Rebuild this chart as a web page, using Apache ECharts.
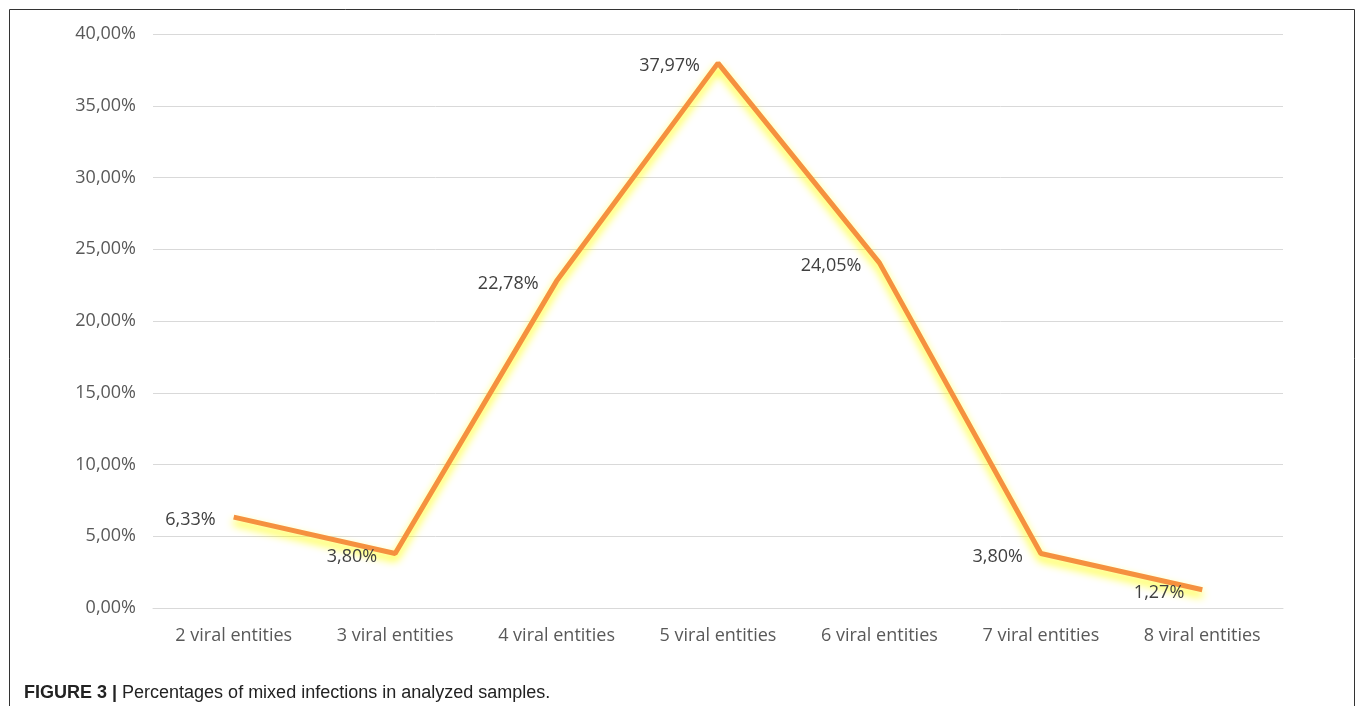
<!DOCTYPE html>
<html>
<head>
<meta charset="utf-8">
<script src="https://cdn.jsdelivr.net/npm/echarts@6/dist/echarts.min.js"></script>
<style>
  html, body { margin: 0; padding: 0; background: #fff; }
  #main { width: 1360px; height: 706px; }
</style>
</head>
<body>
<div id="main"></div>
<script>
var categories = ['2 viral entities', '3 viral entities', '4 viral entities', '5 viral entities', '6 viral entities', '7 viral entities', '8 viral entities'];
var percentages = [6.33, 3.80, 22.78, 37.97, 24.05, 3.80, 1.27];
var yTicks = { min: 0, max: 40, interval: 5 };

function fmtPct(v) {
  return v.toFixed(2).replace('.', ',') + '%';
}

var myChart = echarts.init(document.getElementById('main'));

var option = {
  backgroundColor: '#fff',
  animation: false,
  title: {
    left: 19,
    top: 679,
    text: '{b|FIGURE 3 |} {n|Percentages of mixed infections in analyzed samples.}',
    textStyle: {
      fontWeight: 'normal',
      rich: {
        b: { fontFamily: 'Liberation Sans', fontWeight: 'bold', fontSize: 18, color: '#222' },
        n: { fontFamily: 'Liberation Sans', fontWeight: 'normal', fontSize: 18, color: '#222' }
      }
    }
  },
  graphic: [
    {
      type: 'rect',
      shape: { x: 9.5, y: 9.5, width: 1345, height: 720 },
      style: { fill: 'none', stroke: '#333', lineWidth: 1 },
      silent: true
    }
  ],
  grid: { left: 153, right: 77, top: 34, bottom: 98 },
  xAxis: {
    type: 'category',
    data: categories,
    boundaryGap: true,
    axisLine: { show: true, lineStyle: { color: '#d9d9d9', width: 1 } },
    axisTick: { show: false },
    axisLabel: { color: '#595959', fontSize: 18, fontFamily: 'Open Sans', margin: 19 }
  },
  yAxis: {
    type: 'value',
    min: yTicks.min,
    max: yTicks.max,
    interval: yTicks.interval,
    axisLine: { show: false },
    axisTick: { show: false },
    splitLine: { lineStyle: { color: '#d9d9d9', width: 1 } },
    axisLabel: {
      color: '#595959', fontSize: 18, fontFamily: 'Open Sans', margin: 17,
      formatter: function (v) { return fmtPct(v); }
    }
  },
  series: [
    {
      type: 'line',
      data: percentages,
      symbol: 'circle',
      symbolSize: 2,
      showSymbol: true,
      itemStyle: { color: 'rgba(0,0,0,0)' },
      lineStyle: {
        color: '#f5913f',
        width: 5,
        shadowColor: 'rgba(255, 255, 0, 0.95)',
        shadowBlur: 8,
        shadowOffsetY: 5
      },
      label: {
        show: true,
        position: 'left',
        distance: 17,
        offset: [0, 3],
        color: '#404040',
        fontSize: 18,
        fontFamily: 'Open Sans',
        formatter: function (p) { return fmtPct(p.value); }
      }
    }
  ]
};

myChart.setOption(option);
</script>
</body>
</html>
